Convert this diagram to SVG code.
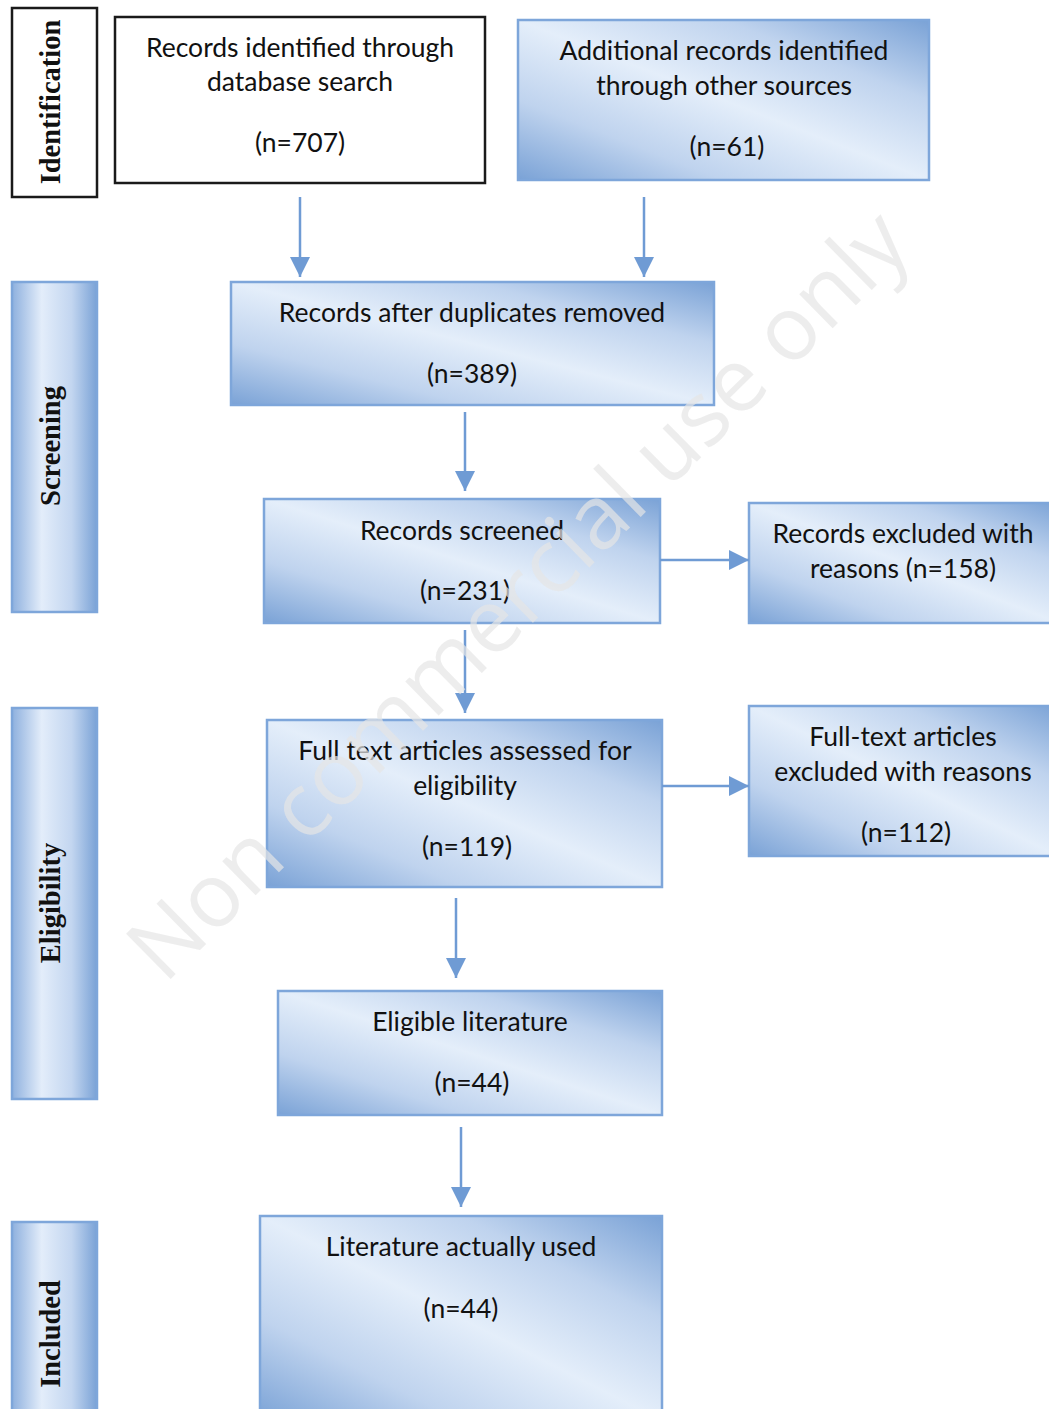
<svg xmlns="http://www.w3.org/2000/svg" width="1049" height="1409" viewBox="0 0 1049 1409">
<defs>
<linearGradient id="g" x1="1" y1="0" x2="0" y2="1">
<stop offset="0" stop-color="#7aa2d6"/>
<stop offset="0.25" stop-color="#bfd3ee"/>
<stop offset="0.5" stop-color="#e4eefa"/>
<stop offset="0.75" stop-color="#bfd3ee"/>
<stop offset="1" stop-color="#7aa2d6"/>
</linearGradient>
<linearGradient id="gs" x1="0" y1="0" x2="1" y2="0">
<stop offset="0" stop-color="#8eb0de"/>
<stop offset="0.35" stop-color="#e3edfa"/>
<stop offset="0.7" stop-color="#c3d6f0"/>
<stop offset="1" stop-color="#7aa2d6"/>
</linearGradient>
<marker id="ah2" viewBox="0 0 20 20" refX="20" refY="10" markerWidth="20" markerHeight="20" markerUnits="userSpaceOnUse" orient="auto">
<path d="M0,0 L20,10 L0,20 Z" fill="#6f9bd4"/>
</marker>
</defs>
<style>
.box{fill:url(#g);stroke:#7ea6da;stroke-width:2.5}
.wbox{fill:#fff;stroke:#1a1a1a;stroke-width:2.5}
.side{fill:url(#gs);stroke:#7ea6da;stroke-width:2.5}
.t{font-family:Lato,"Noto Sans",sans-serif;font-size:26.5px;fill:#111;text-anchor:middle;dominant-baseline:central}
.st{font-family:"Liberation Serif","Times New Roman",serif;font-size:28.5px;font-weight:bold;fill:#111;text-anchor:middle;dominant-baseline:central}
.c{stroke:#6f9bd4;stroke-width:2.5;fill:none;marker-end:url(#ah2)}
.wm{font-family:"Open Sans","Noto Sans",sans-serif;font-size:89px;fill:#e6e6e6;fill-opacity:0.7;text-anchor:middle;dominant-baseline:central}
</style>
<rect width="1049" height="1409" fill="#fff"/>

<g id="side-identification">
<rect class="wbox" x="12" y="8" width="85" height="189"/>
<text class="st" transform="translate(50,102) rotate(-90)">Identification</text>
</g>
<g id="side-screening">
<rect class="side" x="12" y="282" width="85" height="330"/>
<text class="st" transform="translate(50,446) rotate(-90)">Screening</text>
</g>
<g id="side-eligibility">
<rect class="side" x="12" y="708" width="85" height="391"/>
<text class="st" transform="translate(50,903) rotate(-90)">Eligibility</text>
</g>
<g id="side-included">
<rect class="side" x="12" y="1222" width="85" height="195"/>
<text class="st" transform="translate(50,1334) rotate(-90)">Included</text>
</g>

<g id="n-database">
<rect class="wbox" x="115" y="17" width="370" height="166"/>
<text class="t" x="300" y="47">Records identified through</text>
<text class="t" x="300" y="81">database search</text>
<text class="t" x="300" y="142">(n=707)</text>
</g>
<g id="n-other">
<rect class="box" x="518" y="20" width="411" height="160"/>
<text class="t" x="724" y="50">Additional records identified</text>
<text class="t" x="724" y="85">through other sources</text>
<text class="t" x="727" y="146">(n=61)</text>
</g>
<g id="n-dedup">
<rect class="box" x="231" y="282" width="483" height="123"/>
<text class="t" x="472" y="312">Records after duplicates removed</text>
<text class="t" x="472" y="373">(n=389)</text>
</g>
<g id="n-screened">
<rect class="box" x="264" y="499" width="396" height="124"/>
<text class="t" x="462" y="530">Records screened</text>
<text class="t" x="465" y="590">(n=231)</text>
</g>
<g id="n-excluded">
<rect class="box" x="749" y="503" width="310" height="120"/>
<text class="t" x="903" y="533">Records excluded with</text>
<text class="t" x="903" y="568">reasons (n=158)</text>
</g>
<g id="n-fulltext">
<rect class="box" x="267" y="720" width="395" height="167"/>
<text class="t" x="465" y="750">Full text articles assessed for</text>
<text class="t" x="465" y="785">eligibility</text>
<text class="t" x="467" y="846">(n=119)</text>
</g>
<g id="n-ftexcluded">
<rect class="box" x="749" y="706" width="310" height="150"/>
<text class="t" x="903" y="736">Full-text articles</text>
<text class="t" x="903" y="771">excluded with reasons</text>
<text class="t" x="906" y="832">(n=112)</text>
</g>
<g id="n-eligible">
<rect class="box" x="278" y="991" width="384" height="124"/>
<text class="t" x="470" y="1021">Eligible literature</text>
<text class="t" x="472" y="1082">(n=44)</text>
</g>
<g id="n-used">
<rect class="box" x="260" y="1216" width="402" height="205"/>
<text class="t" x="461" y="1246">Literature actually used</text>
<text class="t" x="461" y="1308">(n=44)</text>
</g>

<g id="connectors">
<line class="c" x1="300" y1="197" x2="300" y2="277"/>
<line class="c" x1="644" y1="197" x2="644" y2="277"/>
<line class="c" x1="465" y1="412" x2="465" y2="491"/>
<line class="c" x1="465" y1="630" x2="465" y2="713"/>
<line class="c" x1="456" y1="898" x2="456" y2="978"/>
<line class="c" x1="461" y1="1127" x2="461" y2="1207"/>
<line class="c" x1="660" y1="560" x2="749" y2="560"/>
<line class="c" x1="662" y1="786" x2="749" y2="786"/>
</g>

<text class="wm" transform="translate(515,592) rotate(-44.5)">Non commercial use only</text>
</svg>
